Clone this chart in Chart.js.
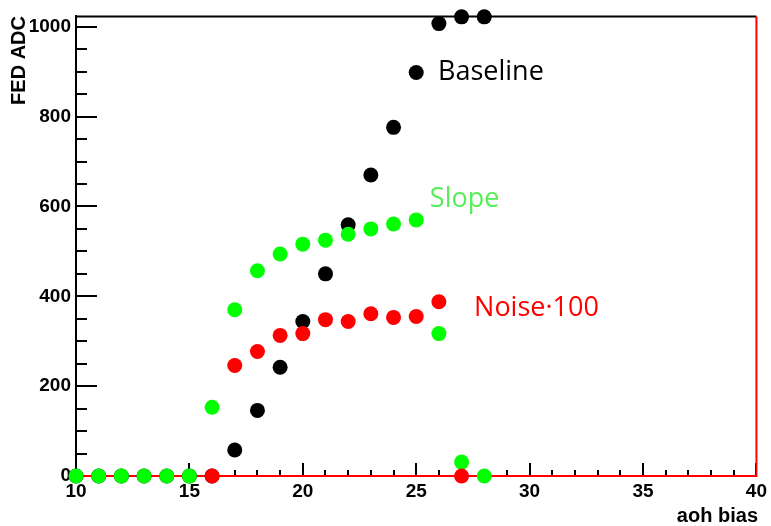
<!DOCTYPE html>
<html>
<head>
<meta charset="utf-8">
<script src="https://cdn.jsdelivr.net/npm/chart.js@4"></script>
<style>
  html, body { margin: 0; padding: 0; background: #fff; }
  #wrap { width: 771px; height: 526px; position: relative; }
</style>
</head>
<body>
<div id="wrap"><canvas id="grafik"></canvas></div>
<script>
// scan aoh bias: baseline, slope, noise x100
var biasBaseline  = [10, 11, 12, 13, 14, 15, 16, 17, 18, 19, 20, 21, 22, 23, 24, 25, 26, 27, 28];
var nilaiBaseline = [0, 0, 0, 0, 0, 0, 0, 58, 146, 242, 344, 450, 559, 670, 776, 898, 1007, 1022, 1022];

var biasSlope  = [10, 11, 12, 13, 14, 15, 16, 17, 18, 19, 20, 21, 22, 23, 24, 25, 26, 27, 28];
var nilaiSlope = [0, 0, 0, 0, 0, 0, 153, 370, 457, 494, 516, 525, 538, 550, 561, 570, 317, 31, 0];

var biasNoise  = [16, 17, 18, 19, 20, 21, 22, 23, 24, 25, 26, 27];
var nilaiNoise = [0, 246, 277, 313, 317, 348, 344, 361, 353, 355, 388, 0];

// label tick sumbu
var tickX = [10, 15, 20, 25, 30, 35, 40];
var tickY = [0, 200, 400, 600, 800, 1000];

// garis merah di nol + sisi kanan
var garisX = [10, 40, 40];
var garisY = [0, 0, 1023];

var sumbuX = { min: 10, max: 40, mayor: 5, minor: 1 };
var sumbuY = { min: 0, max: 1023, mayor: 200, minor: 50 };

// label teks di dalam plot (koordinat data)
var labelTeks  = ['Baseline', 'Slope', 'Noise\u00b7100'];
var labelX     = [25.96, 25.6, 27.55];
var labelY     = [882, 599, 357];
var labelWarna = ['#000000', '#55ef55', '#ff0000'];

var HURUF_SUMBU = "'Liberation Sans', Arial, sans-serif";

function titik(xs, ys) {
  return xs.map(function(x, i) { return { x: x, y: ys[i] }; });
}

function setTitik(label, xs, ys, warna, urutan) {
  return {
    label: label,
    data: titik(xs, ys),
    showLine: false,
    pointRadius: 7.5,
    pointHoverRadius: 7.5,
    pointBackgroundColor: warna,
    pointBorderWidth: 0,
    borderColor: warna,
    clip: false,
    order: urutan,
  };
}

// tick ke dalam ala ROOT + garis atas frame
var pluginTick = {
  id: 'tickDalam',
  beforeDatasetsDraw: function(chart) {
    let ctx = chart.ctx;
    let sx = chart.scales.x, sy = chart.scales.y;
    let area = chart.chartArea;
    ctx.save();
    ctx.strokeStyle = '#000';
    ctx.lineWidth = 2;
    ctx.beginPath();
    for (let v = sumbuX.min; v <= sumbuX.max; v += sumbuX.minor) {
      let px = Math.round(sx.getPixelForValue(v));
      let panjang = (v % sumbuX.mayor === 0) ? 13 : 6;
      ctx.moveTo(px, area.bottom);
      ctx.lineTo(px, area.bottom - panjang);
    }
    for (let v = sumbuY.min; v <= sumbuY.max; v += sumbuY.minor) {
      let py = Math.round(sy.getPixelForValue(v));
      let panjang = (v % sumbuY.mayor === 0) ? 21 : 11;
      ctx.moveTo(area.left, py);
      ctx.lineTo(area.left + panjang, py);
    }
    ctx.moveTo(area.left, area.top);
    ctx.lineTo(area.right, area.top);
    ctx.stroke();
    ctx.restore();
  },
  afterDatasetsDraw: function(chart) {
    let ctx = chart.ctx;
    let sx = chart.scales.x, sy = chart.scales.y;
    ctx.save();
    // label seri
    ctx.font = "27px 'Open Sans', 'Noto Sans', sans-serif";
    ctx.textAlign = 'left';
    ctx.textBaseline = 'alphabetic';
    labelTeks.forEach(function(t, i) {
      ctx.fillStyle = labelWarna[i];
      ctx.fillText(t, sx.getPixelForValue(labelX[i]), sy.getPixelForValue(labelY[i]));
    });
    // judul sumbu
    ctx.fillStyle = '#000';
    ctx.font = 'bold 20px ' + HURUF_SUMBU;
    ctx.textAlign = 'right';
    ctx.fillText('aoh bias', 758, 522);
    ctx.translate(25, 16);
    ctx.rotate(-Math.PI / 2);
    ctx.fillText('FED ADC', 0, 0);
    ctx.restore();
  },
};

var ctxGrafik = document.getElementById('grafik');
var grafik = new Chart(ctxGrafik, {
  type: 'scatter',
  data: {
    datasets: [
      setTitik('Noise\u00b7100', biasNoise, nilaiNoise, '#ff0000', 1),
      setTitik('Slope', biasSlope, nilaiSlope, '#00ff00', 2),
      setTitik('Baseline', biasBaseline, nilaiBaseline, '#000000', 3),
      {
        label: 'nol',
        data: titik(garisX, garisY),
        showLine: true,
        borderColor: '#ff0000',
        borderWidth: 2,
        pointRadius: 0,
        clip: false,
        order: 4,
      },
    ],
  },
  options: {
    responsive: true,
    maintainAspectRatio: false,
    animation: false,
    events: [],
    layout: { padding: { top: 15, right: 11, bottom: 0, left: 0 } },
    plugins: {
      legend: { display: false },
      tooltip: { enabled: false },
    },
    scales: {
      x: {
        type: 'linear',
        min: sumbuX.min,
        max: sumbuX.max,
        afterFit: function(s) { s.height = 50; },
        afterBuildTicks: function(s) {
          s.ticks = tickX.map(function(v) { return { value: v }; });
        },
        grid: { display: true, drawOnChartArea: false, drawTicks: false },
        border: { display: true, color: '#000', width: 2 },
        ticks: {
          padding: 4,
          color: '#000',
          autoSkip: false,
          maxRotation: 0,
          font: { family: HURUF_SUMBU, size: 19, weight: 'bold' },
        },
      },
      y: {
        type: 'linear',
        min: sumbuY.min,
        max: sumbuY.max,
        afterFit: function(s) { s.width = 76; },
        afterBuildTicks: function(s) {
          s.ticks = tickY.map(function(v) { return { value: v }; });
        },
        grid: { display: true, drawOnChartArea: false, drawTicks: false },
        border: { display: true, color: '#000', width: 2 },
        ticks: {
          autoSkip: false,
          padding: 5,
          color: '#000',
          font: { family: HURUF_SUMBU, size: 19, weight: 'bold' },
          callback: function(v) { return String(v); },
        },
      },
    },
  },
  plugins: [pluginTick],
});
</script>
</body>
</html>
